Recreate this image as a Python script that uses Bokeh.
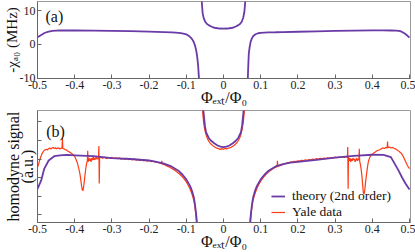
import numpy as np
from bokeh.plotting import figure
from bokeh.layouts import column
from bokeh.models import Range1d, FixedTicker, Label
from bokeh.embed import file_html
from bokeh.resources import INLINE

nan = np.nan

# ---------------- data ----------------
x_ticks = [-0.5, -0.4, -0.3, -0.2, -0.1, 0.0, 0.1, 0.2, 0.3, 0.4, 0.5]
x_tick_labels = ["-0.5", "-0.4", "-0.3", "-0.2", "-0.1", "0", "0.1", "0.2", "0.3", "0.4", "0.5"]
a_y_ticks = [-10, 0, 10]
a_y_tick_labels = ["-10", "0", "10"]
b_y_ticks = [0, 1, 2, 3, 4, 5]

# panel (a): theory -chi (MHz)
x_theory_a = [-0.50, -0.49, -0.48, -0.47, -0.46, -0.45, -0.44, -0.42, -0.40, -0.35, -0.30, -0.25,
              -0.20, -0.16, -0.138, -0.12, -0.111, -0.10, -0.093, -0.088, -0.084, -0.080, -0.077,
              -0.074, -0.072, -0.070, -0.068, -0.066, -0.064, -0.063, nan,
              -0.0605, -0.0595, -0.058, -0.056, -0.053, -0.049, -0.045, -0.040, -0.033, -0.027,
              -0.020, -0.010, 0.0, 0.010, 0.020, 0.027, 0.033, 0.040, 0.045, 0.049, 0.053, 0.056,
              0.058, 0.0595, 0.0605, nan,
              0.063, 0.064, 0.066, 0.068, 0.070, 0.073, 0.076, 0.080, 0.086, 0.093, 0.100, 0.120,
              0.140, 0.160, 0.200, 0.250, 0.300, 0.350, 0.400, 0.430, 0.450, 0.465, 0.475, 0.480,
              0.485, 0.490, 0.500]
chi_theory = [2.1, 2.8, 3.45, 3.8, 4.0, 4.1, 4.12, 4.14, 4.12, 4.05, 3.98, 3.9,
              3.78, 3.65, 3.56, 3.4, 3.26, 3.0, 2.5, 2.0, 1.5, 0.7, -0.2,
              -1.5, -2.7, -4.3, -6.6, -10.0, -16.0, -25.0, nan,
              25.0, 16.0, 12.0, 9.2, 7.7, 6.7, 6.1, 5.7, 5.3, 5.0,
              4.85, 4.7, 4.65, 4.7, 4.85, 5.0, 5.3, 5.7, 6.1, 6.7, 7.9, 9.5,
              12.0, 16.0, 25.0, nan,
              -25.0, -16.0, -8.0, -2.7, -1.0, 0.8, 1.7, 2.5, 3.0, 3.3, 3.42, 3.56,
              3.6, 3.65, 3.75, 3.88, 3.98, 4.08, 4.15, 4.15, 4.12, 4.05, 3.9, 3.7,
              3.35, 3.0, 2.0]

# panel (b): theory homodyne signal (a.u.)
x_theory_b = [-0.50, -0.49, -0.482, -0.47, -0.455, -0.44, -0.42, -0.40, -0.35, -0.30, -0.25, -0.20,
              -0.18, -0.16, -0.14, -0.12, -0.11, -0.10, -0.09, -0.085, -0.080, -0.077, -0.074,
              -0.072, -0.070, -0.067, -0.065, -0.063, nan,
              -0.0595, -0.058, -0.056, -0.054, -0.050, -0.047, -0.040, -0.034, -0.025, -0.016,
              -0.008, 0.0, 0.008, 0.016, 0.025, 0.034, 0.040, 0.047, 0.050, 0.054, 0.056, 0.058,
              0.0595, nan,
              0.063, 0.065, 0.067, 0.070, 0.072, 0.074, 0.077, 0.080, 0.085, 0.090, 0.100, 0.110,
              0.120, 0.140, 0.160, 0.180, 0.200, 0.250, 0.300, 0.350, 0.400, 0.430, 0.450, 0.470,
              0.480, 0.490, 0.500]
homodyne_theory = [1.39, 1.84, 2.47, 2.92, 3.15, 3.2, 3.22, 3.2, 3.15, 3.05, 3.0, 2.92,
                   2.85, 2.75, 2.6, 2.35, 2.15, 1.9, 1.55, 1.3, 0.95, 0.6, 0.1,
                   -0.3, -1.0, -2.5, -5.0, -12.0, nan,
                   12.0, 8.0, 6.5, 5.6, 4.8, 4.45, 4.15, 4.0, 3.85, 3.73,
                   3.67, 3.64, 3.67, 3.73, 3.85, 4.0, 4.15, 4.45, 4.8, 5.6, 6.5, 8.0,
                   12.0, nan,
                   -12.0, -5.0, -2.5, -1.0, -0.3, 0.1, 0.6, 0.95, 1.3, 1.55, 1.9, 2.15,
                   2.35, 2.6, 2.72, 2.8, 2.85, 2.95, 3.08, 3.17, 3.23, 3.22, 3.1, 2.4,
                   2.0, 1.65, 1.35]

# panel (b): Yale data
x_yale = [-0.500, -0.497, -0.494, -0.491, -0.488, -0.485, -0.482, -0.479, -0.476, -0.473,
          -0.470, -0.467, -0.464, -0.461, -0.458, -0.455, -0.452, -0.449, -0.446, -0.443,
          -0.440, -0.437, -0.434, -0.433, -0.432, -0.429, -0.426, -0.423, -0.420, -0.417,
          -0.414, -0.411, -0.408, -0.405, -0.402, -0.399, -0.396, -0.393, -0.390, -0.388,
          -0.386, -0.384, -0.382, -0.380, -0.378, -0.376, -0.374, -0.372, -0.370, -0.368,
          -0.366, -0.365, -0.364, -0.362, -0.360, -0.358, -0.356, -0.354, -0.352, -0.350,
          -0.348, -0.346, -0.344, -0.342, -0.340, -0.338, -0.336, -0.335, -0.334, -0.333,
          -0.330, -0.325, -0.320, -0.315, -0.310, -0.305, -0.300, -0.295, -0.290, -0.285,
          -0.280, -0.275, -0.270, -0.265, -0.260, -0.255, -0.250, -0.245, -0.240, -0.235,
          -0.230, -0.225, -0.220, -0.215, -0.210, -0.205, -0.200, -0.195, -0.190, -0.185,
          -0.180, -0.175, -0.170, -0.167, -0.166, -0.165, -0.160, -0.155, -0.150, -0.145,
          -0.140, -0.135, -0.130, -0.125, -0.120, -0.115, -0.110, -0.105, -0.100, -0.095,
          -0.090, -0.085, -0.080, -0.077, -0.075, -0.073, -0.071, -0.069, nan,
          -0.0600, -0.0588, -0.0575, -0.0555, -0.053, -0.050, -0.047, -0.044, -0.040, -0.036,
          -0.032, -0.028, -0.024, -0.020, -0.016, -0.012, -0.008, -0.004, 0.0, 0.004,
          0.008, 0.012, 0.016, 0.020, 0.024, 0.028, 0.032, 0.036, 0.040, 0.044,
          0.047, 0.050, 0.053, 0.0555, 0.0575, 0.0588, 0.0600, nan,
          0.069, 0.071, 0.073, 0.075, 0.077, 0.080, 0.085, 0.090, 0.095, 0.100,
          0.105, 0.110, 0.115, 0.120, 0.125, 0.130, 0.135, 0.140, 0.144, 0.145,
          0.146, 0.150, 0.155, 0.160, 0.165, 0.170, 0.175, 0.180, 0.185, 0.190,
          0.195, 0.200, 0.205, 0.210, 0.215, 0.220, 0.225, 0.230, 0.235, 0.240,
          0.245, 0.250, 0.255, 0.260, 0.265, 0.270, 0.275, 0.280, 0.285, 0.290,
          0.295, 0.300, 0.305, 0.310, 0.315, 0.320, 0.325, 0.330, 0.333, 0.334,
          0.335, 0.336, 0.338, 0.340, 0.342, 0.344, 0.346, 0.348, 0.350, 0.352,
          0.354, 0.356, 0.358, 0.360, 0.362, 0.364, 0.365, 0.366, 0.368, 0.370,
          0.372, 0.374, 0.376, 0.378, 0.380, 0.382, 0.384, 0.386, 0.388, 0.390,
          0.393, 0.396, 0.400, 0.404, 0.408, 0.412, 0.416, 0.420, 0.424, 0.428,
          0.432, 0.436, 0.440, 0.441, 0.442, 0.446, 0.450, 0.454, 0.458, 0.462,
          0.466, 0.470, 0.474, 0.478, 0.482, 0.486, 0.490, 0.494, 0.497, 0.500]
yale = [2.55, 2.72, 2.95, 3.12, 3.28, 3.38, 3.46, 3.5, 3.53, 3.49,
        3.56, 3.6, 3.54, 3.59, 3.62, 3.56, 3.61, 3.55, 3.59, 3.6,
        3.54, 3.58, 3.6, 4.15, 3.57, 3.55, 3.51, 3.5, 3.44, 3.42,
        3.37, 3.34, 3.3, 3.24, 3.2, 3.1, 2.96, 2.8, 2.56, 2.4,
        2.2, 1.94, 1.62, 1.36, 1.28, 1.5, 1.82, 2.2, 2.5, 2.76,
        2.9, 3.45, 2.84, 3.06, 2.9, 3.02, 2.84, 3.05, 2.94, 3.1,
        2.95, 3.06, 2.98, 3.1, 3.0, 3.05, 3.0, 3.7, 1.68, 3.05,
        3.1, 3.04, 3.09, 3.02, 3.07, 3.04, 3.1, 3.03, 3.06, 3.01,
        3.06, 2.99, 3.03, 2.98, 3.04, 2.97, 3.0, 2.95, 3.01, 2.94,
        2.97, 2.92, 2.96, 2.9, 2.94, 2.88, 2.92, 2.86, 2.88, 2.84,
        2.83, 2.8, 2.78, 2.74, 2.9, 2.73, 2.7, 2.65, 2.6, 2.55,
        2.5, 2.44, 2.38, 2.3, 2.22, 2.12, 2.02, 1.9, 1.76, 1.58,
        1.38, 1.12, 0.78, 0.45, 0.1, -0.3, -1.0, -2.0, nan,
        10.0, 7.5, 6.2, 5.4, 4.9, 4.55, 4.32, 4.14, 3.98, 3.86,
        3.78, 3.71, 3.65, 3.61, 3.57, 3.55, 3.52, 3.56, 3.53, 3.57,
        3.55, 3.58, 3.6, 3.63, 3.68, 3.73, 3.8, 3.88, 4.0, 4.16,
        4.34, 4.6, 4.95, 5.45, 6.3, 7.6, 10.0, nan,
        -2.0, -1.0, -0.3, 0.15, 0.5, 0.82, 1.15, 1.42, 1.62, 1.8,
        1.95, 2.08, 2.18, 2.28, 2.36, 2.43, 2.5, 2.55, 2.58, 2.9,
        2.6, 2.63, 2.67, 2.71, 2.74, 2.78, 2.8, 2.84, 2.83, 2.87,
        2.86, 2.9, 2.89, 2.93, 2.91, 2.96, 2.93, 2.97, 2.95, 3.0,
        2.97, 3.02, 2.99, 3.04, 3.01, 3.05, 3.02, 3.07, 3.04, 3.08,
        3.05, 3.1, 3.07, 3.11, 3.08, 3.12, 3.09, 3.13, 3.1, 3.65,
        1.4, 3.1, 2.9, 3.05, 2.85, 3.0, 2.9, 3.05, 2.95, 3.0,
        2.85, 2.95, 3.05, 2.9, 3.0, 2.95, 3.55, 2.9, 2.7, 2.45,
        2.1, 1.6, 1.18, 1.1, 1.35, 1.75, 2.1, 2.4, 2.7, 2.9,
        3.08, 3.18, 3.26, 3.33, 3.38, 3.44, 3.47, 3.5, 3.55, 3.6,
        3.57, 3.62, 3.6, 3.95, 3.61, 3.65, 3.6, 3.62, 3.58, 3.55,
        3.5, 3.44, 3.38, 3.3, 3.18, 3.02, 2.84, 2.66, 2.56, 2.48]

x_axis_title = "Φₑₓₜ/Φ₀"
a_axis_title = "-χₐ₀ (MHz)"
b_axis_title = "homodyne signal\n(a.u.)"

# ---------------- style ----------------
FONT = "Liberation Serif"
PURPLE = "#6a3aa6"
RED = "#ff3a14"
AXIS = "#666666"
FRAME = "#9a9a9a"


def style(p, yticks, ylabels):
    p.outline_line_color = FRAME
    p.outline_line_width = 1
    p.xgrid.visible = False
    p.ygrid.visible = False
    for ax in (p.xaxis[0], p.yaxis[0]):
        ax.axis_line_color = AXIS
        ax.major_tick_line_color = AXIS
        ax.major_tick_in = 4
        ax.major_tick_out = 0
        ax.minor_tick_line_color = None
        ax.major_label_text_font = FONT
        ax.major_label_text_font_size = "12px"
        ax.major_label_text_color = "#222222"
        ax.major_label_standoff = 2
        ax.axis_label_text_font = FONT
        ax.axis_label_text_font_style = "normal"
        ax.axis_label_text_color = "#111111"
    p.xaxis[0].ticker = FixedTicker(ticks=x_ticks)
    p.xaxis[0].major_label_overrides = {t: s for t, s in zip(x_ticks, x_tick_labels)}
    p.yaxis[0].ticker = FixedTicker(ticks=yticks)
    p.yaxis[0].major_label_overrides = {t: s for t, s in zip(yticks, ylabels)}
    p.xaxis[0].axis_label = x_axis_title
    p.xaxis[0].axis_label_text_font_size = "16px"
    p.xaxis[0].axis_label_standoff = -3


def lab(p, text, x, y, xo, yo, size):
    p.add_layout(Label(x=x, y=y, x_offset=xo, y_offset=yo, text=text,
                       text_font=FONT, text_font_size=size, text_color="#111111",
                       text_align="left", text_baseline="alphabetic"))


W = 415
LEFT = 33
RIGHT = 5

# ---------------- panel (a) ----------------
pa = figure(width=W, height=109, output_backend="svg", toolbar_location=None,
            x_range=Range1d(-0.5, 0.5027), y_range=Range1d(-10.1, 12.7),
            min_border_left=LEFT, min_border_right=RIGHT, min_border_top=1, min_border_bottom=31)
style(pa, a_y_ticks, a_y_tick_labels)
pa.yaxis[0].axis_label = a_axis_title
pa.yaxis[0].axis_label_text_font_size = "15px"
pa.yaxis[0].axis_label_standoff = -3
pa.line(x_theory_a, chi_theory, line_color=PURPLE, line_width=1.8)
lab(pa, "(a)", -0.5, 12.7, 8, -14.5, "16px")

# ---------------- panel (b) ----------------
pb = figure(width=W, height=143, output_backend="svg", toolbar_location=None,
            x_range=Range1d(-0.5, 0.5027), y_range=Range1d(-0.43, 5.62),
            min_border_left=LEFT, min_border_right=RIGHT, min_border_top=1, min_border_bottom=30)
style(pb, b_y_ticks, ["" for _ in b_y_ticks])
pb.yaxis[0].axis_label = b_axis_title
pb.yaxis[0].axis_label_text_font_size = "16px"
pb.yaxis[0].axis_label_text_line_height = 0.8
pb.yaxis[0].axis_label_standoff = 2
pb.line(x_yale, yale, line_color=RED, line_width=1.2, legend_label="Yale data")
pb.line(x_theory_b, homodyne_theory, line_color=PURPLE, line_width=1.8,
        legend_label="theory (2nd order)")
lab(pb, "(b)", -0.5, 5.62, 8.7, -20.5, "16px")

lg = pb.legend[0]
lg.items = list(reversed(lg.items))
lg.location = (234, 2)
lg.border_line_color = None
lg.background_fill_alpha = 0
lg.padding = 0
lg.margin = 0
lg.spacing = 0
lg.glyph_width = 14
lg.glyph_height = 14
lg.label_height = 14
lg.label_standoff = 7
lg.label_text_font = FONT
lg.label_text_font_size = "13.5px"
lg.label_text_color = "#111111"

layout = column(pa, pb)
open("out.html", "w").write(file_html(layout, INLINE))
